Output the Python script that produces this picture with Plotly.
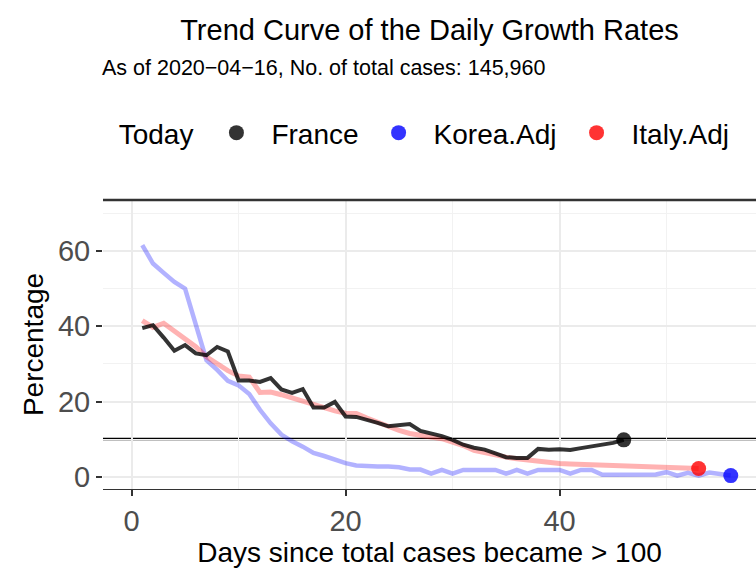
import plotly.graph_objects as go

# ---------------- data ----------------
france_days = list(range(1, 47))
france_rate = [39.5, 40.3, 37.0, 33.5, 35.0, 32.8, 32.3, 34.5, 33.3, 25.6,
               25.6, 25.2, 26.2, 23.2, 22.3, 23.3, 18.4, 18.4, 19.9, 16.0,
               15.9, 15.2, 14.3, 13.4, 13.7, 14.0, 12.2, 11.5, 10.8, 9.8,
               8.5, 7.7, 7.2, 6.2, 5.2, 5.0, 5.0, 7.4, 7.2, 7.3,
               7.1, 7.6, 8.0, 8.5, 9.0, 9.8]

korea_days = list(range(1, 57))
korea_rate = [61.6, 56.7, 54.2, 51.8, 50.0, 40.8, 31.0, 28.4, 25.5, 24.3,
              22.0, 17.8, 14.2, 11.2, 9.4, 8.0, 6.3, 5.5, 4.5, 3.6,
              3.0, 2.8, 2.7, 2.7, 2.5, 1.9, 1.9, 0.8, 1.8, 0.8,
              1.8, 1.8, 1.8, 1.8, 0.8, 1.8, 0.8, 1.8, 1.8, 1.8,
              0.8, 1.8, 1.8, 0.5, 0.5, 0.5, 0.5, 0.5, 0.6, 1.2,
              0.3, 1.0, 0.3, 1.1, 0.7, 0.3]

italy_days = list(range(1, 54))
italy_rate = [41.5, 39.7, 40.8, 38.6, 36.8, 34.6, 31.9, 30.0, 28.2, 26.8,
              26.5, 22.4, 22.5, 21.8, 20.9, 20.3, 19.3, 18.5, 17.5, 16.9,
              16.8, 15.6, 14.4, 13.3, 12.3, 11.5, 11.1, 10.6, 10.1, 9.2,
              8.3, 7.0, 6.3, 5.7, 5.2, 4.8, 4.4, 4.0, 3.7, 3.5,
              3.4, 3.3, 3.2, 3.0, 2.9, 2.8, 2.7, 2.6, 2.5, 2.4,
              2.3, 2.3, 2.2]

threshold = 10
x_ticks = [0, 20, 40]
y_ticks = [0, 20, 40, 60]

title_text = "Trend Curve of the Daily Growth Rates"
subtitle_text = "As of 2020\u221204\u221216, No. of total cases: 145,960"

FONT = "Liberation Sans, Arial, Helvetica, sans-serif"

fig = go.Figure()

# trend lines
fig.add_trace(go.Scatter(x=korea_days, y=korea_rate, mode="lines",
                         line=dict(color="rgba(0,0,255,0.3)", width=4.5),
                         showlegend=False, hoverinfo="skip"))
fig.add_trace(go.Scatter(x=italy_days, y=italy_rate, mode="lines",
                         line=dict(color="rgba(255,0,0,0.3)", width=5),
                         showlegend=False, hoverinfo="skip"))
fig.add_trace(go.Scatter(x=france_days, y=france_rate, mode="lines",
                         line=dict(color="rgba(0,0,0,0.8)", width=4),
                         showlegend=False, hoverinfo="skip"))

# "today" points
fig.add_trace(go.Scatter(x=[france_days[-1]], y=[france_rate[-1]], mode="markers",
                         name="France",
                         marker=dict(color="rgba(0,0,0,0.8)", size=15)))
fig.add_trace(go.Scatter(x=[korea_days[-1]], y=[korea_rate[-1]], mode="markers",
                         name="Korea.Adj",
                         marker=dict(color="rgba(0,0,255,0.8)", size=15)))
fig.add_trace(go.Scatter(x=[italy_days[-1]], y=[italy_rate[-1]], mode="markers",
                         name="Italy.Adj",
                         marker=dict(color="rgba(255,0,0,0.8)", size=15)))

# horizontal reference line at 10%
fig.add_hline(y=threshold, line=dict(color="black", width=2.5), layer="below")
# top border line
fig.add_shape(type="line", xref="paper", yref="paper", x0=0, x1=1, y0=1, y1=1,
              line=dict(color="#333333", width=2.5))

fig.update_layout(
    width=756, height=571,
    margin=dict(l=103, r=0, t=200, b=82, autoexpand=False),
    paper_bgcolor="white", plot_bgcolor="white",
    font=dict(family=FONT, color="black"),
    title=dict(text=title_text, x=0.5, xref="paper", xanchor="center",
               y=1 - 30 / 571, yref="container", yanchor="middle",
               font=dict(size=29, color="black", family=FONT)),
    legend=dict(orientation="h", x=0.021, xanchor="left", xref="paper",
                y=1.232, yanchor="middle", yref="paper",
                title=dict(text="Today", side="left", font=dict(size=28)),
                font=dict(size=28, color="black"),
                itemwidth=60, traceorder="normal"),
    annotations=[dict(text=subtitle_text, xref="paper", yref="paper",
                      x=-0.005, y=1.457, xanchor="left", yanchor="middle",
                      showarrow=False, font=dict(size=21.5, color="black"))],
)

fig.update_xaxes(
    range=[-2.67, 58.36], tickvals=x_ticks, automargin=False,
    showgrid=True, gridcolor="#EBEBEB", gridwidth=1.7,
    minor=dict(dtick=10, tick0=0, showgrid=True, gridcolor="#F2F2F2", gridwidth=1),
    showline=True, linecolor="#333333", linewidth=1,
    ticks="outside", ticklen=6, tickwidth=2, tickcolor="#333333",
    tickfont=dict(size=29, color="#4D4D4D"),
    title=dict(text="Days since total cases became > 100", font=dict(size=28, color="black"), standoff=2),
    zeroline=False,
)
fig.update_yaxes(
    range=[-3.27, 73.59], tickvals=y_ticks, automargin=False,
    showgrid=True, gridcolor="#EBEBEB", gridwidth=1.7,
    minor=dict(dtick=10, tick0=0, showgrid=True, gridcolor="#F2F2F2", gridwidth=1),
    showline=False,
    ticks="outside", ticklen=6, tickwidth=2, tickcolor="#333333",
    tickfont=dict(size=29, color="#4D4D4D"),
    title=dict(text="Percentage", font=dict(size=28, color="black"), standoff=6),
    zeroline=False,
)

# the page body has a default 8px margin; remove it so the figure fills the window
fig.write_html("out.html",
               config={"displayModeBar": False},
               post_script="document.body.style.margin='0';document.body.style.overflow='hidden';")
